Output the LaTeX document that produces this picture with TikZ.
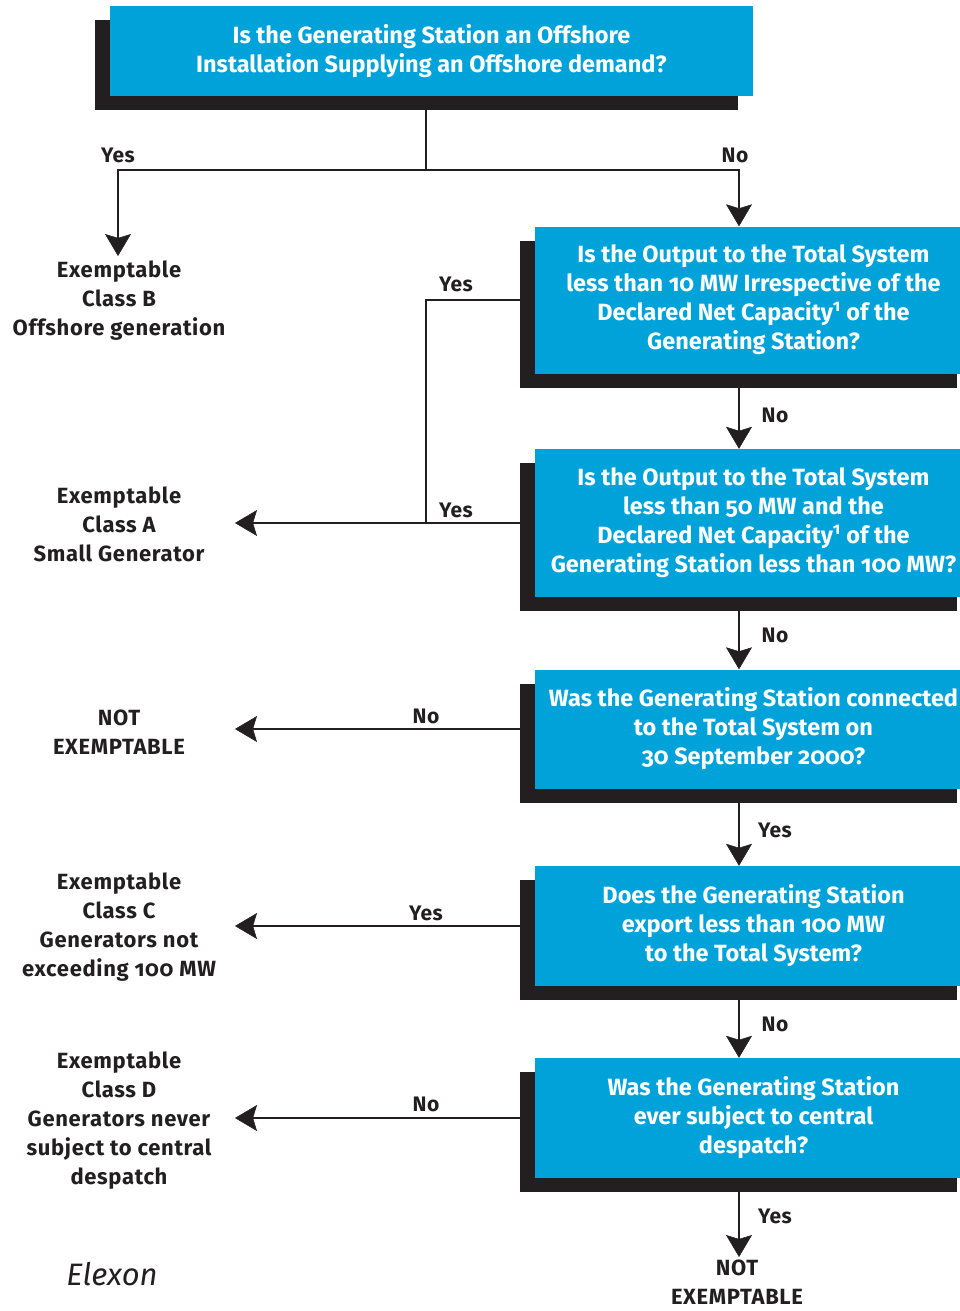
\documentclass[tikz,border=0pt]{standalone}
\usepackage{fontspec}
\setmainfont{Fira Sans}[Numbers=OldStyle]
\usetikzlibrary{arrows.meta,shadows,backgrounds}
\definecolor{boxblue}{RGB}{0,163,217}
\definecolor{ink}{RGB}{35,31,32}
\begin{document}
\begin{tikzpicture}[x=1pt,y=-1pt,
  qbox/.style={fill=boxblue, text=white, align=center, inner sep=0pt,
    font=\bfseries\fontsize{23.5}{29}\selectfont,
    drop shadow={shadow xshift=-15pt, shadow yshift=-14pt, fill=ink, opacity=1}},
  lbl/.style={text=ink, align=center, inner sep=0pt,
    font=\bfseries\fontsize{22}{29}\selectfont\addfontfeature{LetterSpace=3}},
  yn/.style={text=ink, inner sep=0pt, font=\bfseries\fontsize{21}{25}\selectfont\addfontfeature{LetterSpace=2}},
  conn/.style={draw=ink, line width=2.6pt},
  arr/.style={conn, -{Stealth[length=22pt,width=26pt,inset=4pt,fill=ink,line width=0.5pt]}}]
\clip (0,0) rectangle (960,1311);

% question boxes
\node[qbox, minimum width=643pt, minimum height=90pt] (q1) at (431.5,51)
  {Is the Generating Station an Offshore\\Installation Supplying an Offshore demand?};
\node[qbox, minimum width=437pt, minimum height=147pt] (q2) at (753.5,300)
  {Is the Output to the Total System\\less than 10 MW Irrespective of the\\Declared Net Capacity\textsuperscript{1} of the\\Generating Station?};
\node[qbox, minimum width=437pt, minimum height=148pt] (q3) at (753.5,523)
  {Is the Output to the Total System\\less than 50 MW and the\\Declared Net Capacity\textsuperscript{1} of the\\Generating Station less than 100 MW?};
\node[qbox, minimum width=437pt, minimum height=119pt] (q4) at (753.5,729)
  {Was the Generating Station connected\\to the Total System on\\30 September 2000?};
\node[qbox, minimum width=437pt, minimum height=120pt] (q5) at (753.5,926)
  {Does the Generating Station\\export less than 100 MW\\to the Total System?};
\node[qbox, minimum width=437pt, minimum height=120pt] (q6) at (753.5,1118)
  {Was the Generating Station\\ever subject to central\\despatch?};

% outcome labels
\node[lbl] (lB) at (119,301) {Exemptable\\Class B\\Offshore generation};
\node[lbl] (lA) at (119,524) {Exemptable\\Class A\\Small Generator};
\node[lbl] (lN) at (119,732) {NOT\\EXEMPTABLE};
\node[lbl] (lC) at (119,927) {Exemptable\\Class C\\Generators not\\exceeding 100 MW};
\node[lbl] (lD) at (119,1121) {Exemptable\\Class D\\Generators never\\subject to central\\despatch};
\node[lbl] (lE) at (737,1282) {NOT\\EXEMPTABLE};
\node[text=ink, inner sep=0pt, font=\itshape\fontsize{31}{36}\selectfont] (elx) at (112,1274) {Elexon};

% coordinates
\coordinate (j) at (426,170);
\coordinate (vr) at (739,170);
\coordinate (tB) at (118,256);
\coordinate (tL) at (235,0);
\coordinate (tE) at (739,1257);

\begin{scope}[on background layer]
  \draw[conn] (q1.south -| j) -- (j);
  \draw[arr] (j) -| (tB);
  \draw[arr] (j) -| (q2.north -| vr);
  \draw[conn] (q2.west) -- (q2.west -| j) -- (j |- q3.west);
  \draw[arr] (q3.west) -- (q3.west -| tL);
  \draw[arr] (q2.south -| vr) -- (q3.north -| vr);
  \draw[arr] (q3.south -| vr) -- (q4.north -| vr);
  \draw[arr] (q4.west) -- (q4.west -| tL);
  \draw[arr] (q4.south -| vr) -- (q5.north -| vr);
  \draw[arr] (q5.west) -- (q5.west -| tL);
  \draw[arr] (q5.south -| vr) -- (q6.north -| vr);
  \draw[arr] (q6.west) -- (q6.west -| tL);
  \draw[arr] (q6.south -| vr) -- (tE);
\end{scope}

% connector labels
\node[yn] (y1) at (118,155) {Yes};
\node[yn] (n1) at (735,155) {No};
\node[yn] (y2) at (456,284) {Yes};
\node[yn] (y3) at (456,510) {Yes};
\node[yn] (n2) at (775,415) {No};
\node[yn] (n3) at (775,635) {No};
\node[yn] (n4) at (426,716) {No};
\node[yn] (y4) at (775,830) {Yes};
\node[yn] (y5) at (426,913) {Yes};
\node[yn] (n5) at (775,1024) {No};
\node[yn] (n6) at (426,1104) {No};
\node[yn] (y6) at (775,1216) {Yes};
\end{tikzpicture}
\end{document}
